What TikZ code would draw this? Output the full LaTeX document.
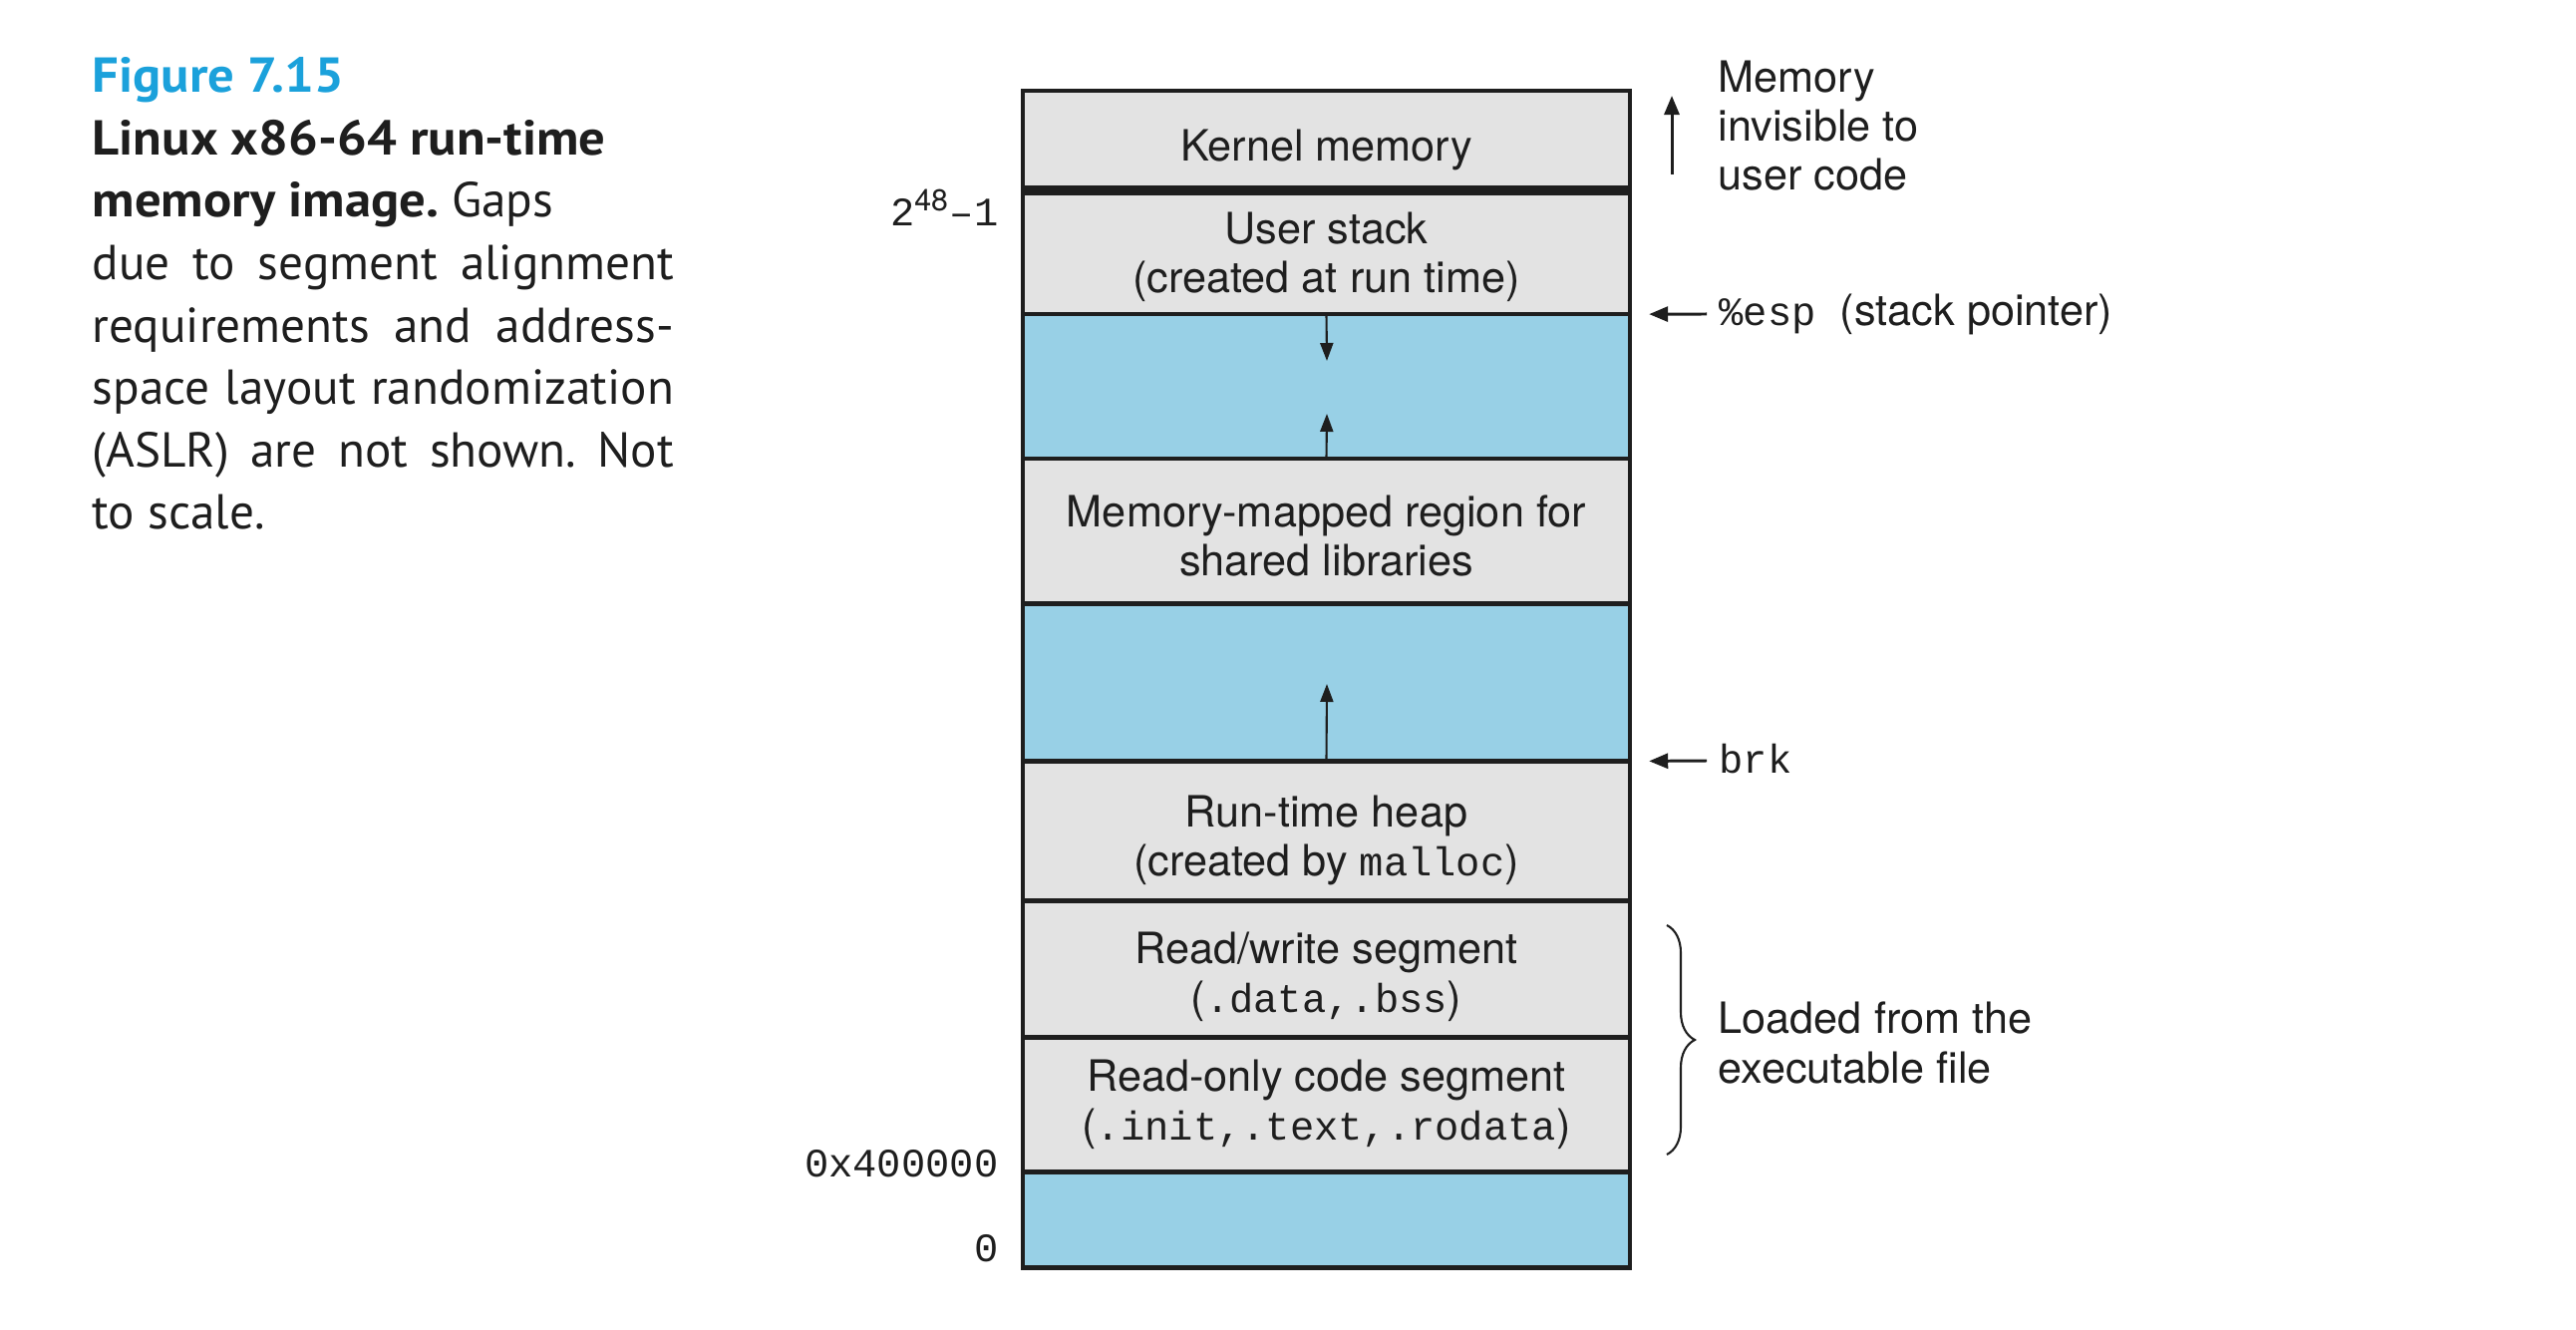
\documentclass[tikz,border=0pt]{standalone}
\usepackage{fontspec}
\setmainfont{TeX Gyre Heros}
\setmonofont[Scale=0.935]{Liberation Mono}
\newfontfamily\capfont{PT Sans}[BoldFeatures={FakeStretch=1.07}]
\usetikzlibrary{positioning,arrows.meta,decorations.pathreplacing}

\definecolor{figblue}{RGB}{27,161,219}
\definecolor{gapblue}{RGB}{152,208,230}
\definecolor{seggray}{RGB}{227,227,227}
\definecolor{ink}{RGB}{30,30,30}

\newcommand{\boxfont}{\fontsize{12.3}{14}\selectfont}
\newcommand{\capsize}{\fontsize{14}{17.8}\selectfont}

\tikzset{
  seg/.style={draw=ink, line width=1.3pt, fill=seggray, minimum width=6.09cm,
    inner sep=0pt, outer sep=0pt, align=center, font=\boxfont, text=ink},
  gap/.style={seg, fill=gapblue},
  addr/.style={font=\boxfont\ttfamily, text=ink, inner sep=0pt},
  note/.style={font=\boxfont, text=ink, inner sep=0pt, align=left},
  arr/.style={-{Triangle[length=0.18cm,width=0.13cm]}, line width=0.6pt, draw=ink},
  ptr/.style={-{Triangle[length=0.19cm,width=0.15cm]}, line width=0.85pt, draw=ink},
  loadbrace/.style={decorate, decoration={brace, amplitude=0.28cm}, line width=0.6pt, draw=ink},
}

\begin{document}
\frenchspacing
\begin{tikzpicture}[x=0.01cm, y=-0.01cm]
  \useasboundingbox (0,0) rectangle (2584,1334);

  % caption
  \node[anchor=north west, inner sep=0pt, text width=5.83cm, align=justify,
    font=\capfont\capsize, text=ink] (caption) at (92,57)
    {{\color{figblue}\bfseries Figure 7.15}\\
     {\bfseries Linux x86-64 run-time}\\
     {\bfseries memory image.} Gaps\\
     due to segment alignment\linebreak
     requirements and address-\linebreak
     space layout randomization\linebreak
     (ASLR) are not shown. Not\linebreak
     to scale.};

  % the address space, top down
  \node[seg, minimum height=1.00cm, anchor=north, text height=0.50cm] (kernel) at (1330.5,91) {Kernel memory};
  \node[seg, minimum height=1.24cm, below=0pt of kernel, text height=0.90cm] (ustack) {User stack\\(created at run time)};
  \node[gap, minimum height=1.45cm, below=0pt of ustack] (gap1) {};
  \node[seg, minimum height=1.45cm, below=0pt of gap1, text height=0.90cm] (mmap) {Memory-mapped region for\\shared libraries};
  \node[gap, minimum height=1.58cm, below=0pt of mmap] (gap2) {};
  \node[seg, minimum height=1.40cm, below=0pt of gap2, text height=1.0cm] (heap) {Run-time heap\\(created by \texttt{malloc})};
  \node[seg, minimum height=1.37cm, below=0pt of heap, text height=0.97cm] (rw) {Read/write segment\\(\texttt{.data,.bss})};
  \node[seg, minimum height=1.35cm, below=0pt of rw] (ro) {Read-only code segment\\(\texttt{.init,.text,.rodata})};
  \node[gap, minimum height=0.96cm, below=0pt of ro] (gap3) {};
  \draw[ink, line width=2.85pt] (kernel.south west) -- (kernel.south east);

  % growth arrows
  \coordinate (stackdown) at (1331,362);
  \coordinate (mmapup) at (1331,415);
  \coordinate (heapup) at (1331,686);
  \draw[arr] (ustack.south) -- (stackdown);
  \draw[arr] (mmap.north) -- (mmapup);
  \draw[arr] (heap.north) -- (heapup);

  % addresses
  \node[addr, anchor=base east] (topaddr) at (1002,227) {2\textsuperscript{\rmfamily 48}\textendash1};
  \node[addr, anchor=base east] (textaddr) at (1002,1180) {0x400000};
  \node[addr, anchor=base east] (zeroaddr) at (1002,1265) {0};

  % notes on the right
  \node[note, anchor=north west] (invis) at (1723,60) {Memory\\invisible to\\user code};
  \coordinate (invtail) at (1677,175);
  \coordinate (invtip) at (1677,96);
  \draw[ptr] (invtail) -- (invtip);

  \node[note, anchor=base west] (esp) at (1724,327) {\texttt{\%esp}\ \ (stack pointer)};
  \coordinate (esptail) at (1712,315);
  \draw[ptr] (esptail) -- ([xshift=0.19cm]ustack.south east);

  \node[note, anchor=base west] (brk) at (1724,776) {\texttt{brk}};
  \coordinate (brktail) at (1712,763);
  \draw[ptr] (brktail) -- ([xshift=0.19cm]gap2.south east);

  \node[note, anchor=west] (loaded) at (1723,1046) {Loaded from the\\executable file};
  \draw[loadbrace] (1672,928) -- (1672,1158);
\end{tikzpicture}
\end{document}
